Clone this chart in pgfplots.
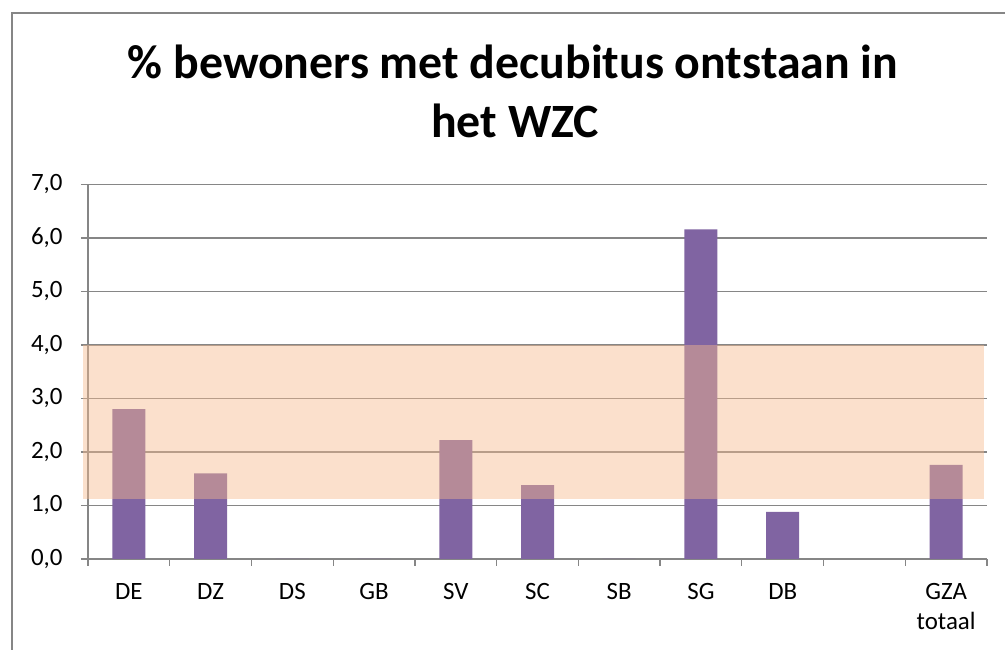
\documentclass[border=0pt]{standalone}
\usepackage{fontspec}
\setmainfont{Carlito}
\usepackage{pgfplots}
\pgfplotsset{compat=1.18}
\definecolor{barpurple}{RGB}{128,100,162}
\definecolor{bandorange}{RGB}{246,186,142}
\definecolor{gridgray}{RGB}{134,134,134}
\begin{document}
\begin{tikzpicture}
\useasboundingbox (0,0) rectangle (1005bp,650bp);
\draw[gridgray,line width=1.2bp] (12bp,0) -- (12bp,637bp) -- (1005bp,637bp);
\node[font=\fontsize{48}{59}\selectfont\bfseries,anchor=base,inner sep=0pt] at (513bp,571bp) {\% bewoners met decubitus ontstaan in};
\node[font=\fontsize{48}{59}\selectfont\bfseries,anchor=base,inner sep=0pt] at (515bp,512bp) {het WZC};
\begin{axis}[
  at={(88bp,91bp)}, anchor=south west,
  width=899bp, height=374.5bp, scale only axis,
  xmin=-0.5, xmax=10.5, ymin=0, ymax=7,
  clip=false,
  axis x line*=bottom, axis y line*=left,
  axis line style={gridgray,line width=1.2bp},
  xtick={0,...,10},
  xticklabels={DE,DZ,DS,GB,SV,SC,SB,SG,DB,{},{GZA\\totaal}},
  xticklabel style={align=center,font=\fontsize{25}{30}\selectfont,yshift=-14bp},
  major x tick style={draw=none},
  minor xtick={-0.5,0.5,...,10.5},
  minor x tick style={gridgray,line width=1.2bp},
  minor tick length=7bp,
  ytick={0,1,...,7},
  yticklabel={\pgfmathprintnumber[fixed,fixed zerofill,precision=1,use comma]{\tick}},
  yticklabel style={font=\fontsize{25}{30}\selectfont,xshift=-15bp},
  /pgf/number format/assume math mode=true,
  major y tick style={gridgray,line width=1.2bp},
  major tick length=7bp,
  tick align=outside,
  ymajorgrids,
  major grid style={gridgray,line width=1.2bp},
]
\addplot[ybar, bar width=33bp, fill=barpurple, draw=none] coordinates {
  (0,2.80) (1,1.60) (2,0) (3,0) (4,2.22) (5,1.38) (6,0) (7,6.16) (8,0.88) (10,1.76)
};
\addplot[fill=bandorange, fill opacity=0.45, draw=none] coordinates {
  (-0.56,1.12) (10.46,1.12) (10.46,4) (-0.56,4) (-0.56,1.12)
} -- cycle;
\end{axis}
\end{tikzpicture}
\end{document}
